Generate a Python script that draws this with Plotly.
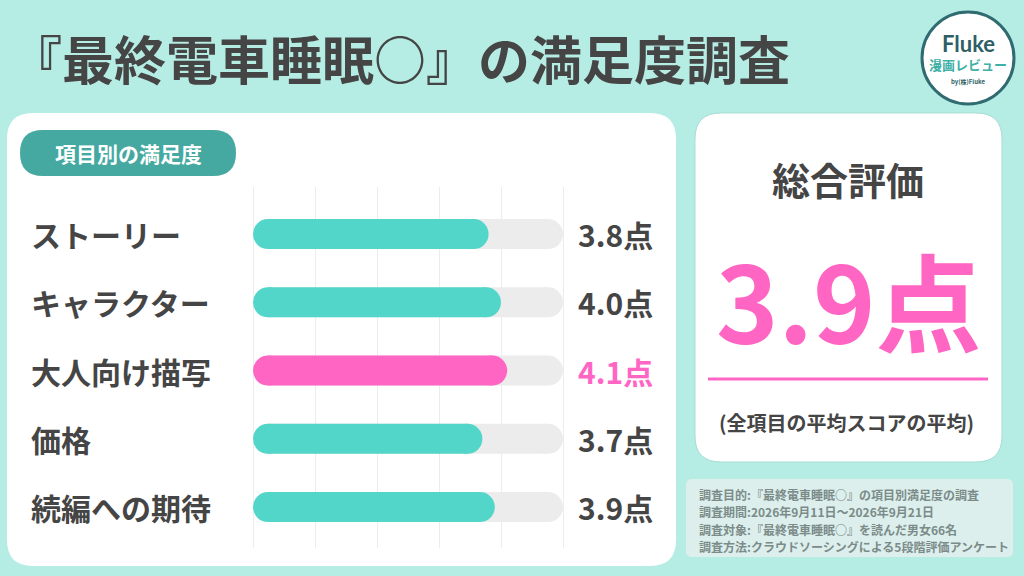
import plotly.graph_objects as go

W, H = 1024, 576

# ---------------- data ----------------
categories = ["ストーリー", "キャラクター", "大人向け描写", "価格", "続編への期待"]
scores = [3.8, 4.0, 4.1, 3.7, 3.9]
max_score = 5
grid_ticks = [0, 1, 2, 3, 4, 5]
title_text = "『最終電車睡眠○』の満足度調査"
section_label = "項目別の満足度"
overall_label = "総合評価"
overall_note = "(全項目の平均スコアの平均)"
notes = [
    "調査目的:『最終電車睡眠○』の項目別満足度の調査",
    "調査期間:2026年9月11日～2026年9月21日",
    "調査対象:『最終電車睡眠○』を読んだ男女66名",
    "調査方法:クラウドソーシングによる5段階評価アンケート",
]

# ---------------- style ----------------
BG = "#b5ede5"
TEAL = "#52d6c9"
TEAL_DARK = "#45a9a1"
PINK = "#ff66c4"
TRACK = "#ececec"
TEXT = "#454545"
FONT = "Noto Sans CJK JP"

# plot area (pixels)
PX0, PX1 = 253, 563
PY0, PY1 = 187, 548
YR = [4.6, -0.69]
BAR_PX = 30
PAD = 0.02  # small range padding so edge gridlines are drawn

overall = round(sum(scores) / len(scores), 1)
best = max(scores)
bar_colors = [PINK if s == best else TEAL for s in scores]
label_colors = [PINK if s == best else TEXT for s in scores]

ppu = (PX1 - PX0) / max_score
px_per_cat = (PY1 - PY0) / (YR[0] - YR[1])
bar_w = BAR_PX / px_per_cat
r_u = (BAR_PX / 2) / ppu


def px(x):
    return x / W


def py(y):
    return 1 - y / H


def rrect(x0, y0, x1, y1, r):
    X = lambda v: f"{px(v):.5f}"
    Y = lambda v: f"{py(v):.5f}"
    return (
        f"M {X(x0 + r)} {Y(y0)} L {X(x1 - r)} {Y(y0)} "
        f"Q {X(x1)} {Y(y0)} {X(x1)} {Y(y0 + r)} "
        f"L {X(x1)} {Y(y1 - r)} Q {X(x1)} {Y(y1)} {X(x1 - r)} {Y(y1)} "
        f"L {X(x0 + r)} {Y(y1)} Q {X(x0)} {Y(y1)} {X(x0)} {Y(y1 - r)} "
        f"L {X(x0)} {Y(y0 + r)} Q {X(x0)} {Y(y0)} {X(x0 + r)} {Y(y0)} Z"
    )


fig = go.Figure()

# --- grey tracks (body + right cap; left cap is hidden beneath the score caps) ---
track = [max_score] * len(categories)
fig.add_trace(go.Bar(
    y=categories, x=[v - 2 * r_u for v in track], base=[r_u] * len(track), orientation="h",
    marker=dict(color=TRACK, line=dict(width=0)), width=bar_w, hoverinfo="skip", showlegend=False,
))
# --- score bodies ---
fig.add_trace(go.Bar(
    y=categories, x=[v - 2 * r_u for v in scores], base=[r_u] * len(scores), orientation="h",
    marker=dict(color=bar_colors, line=dict(width=0)), width=bar_w, hoverinfo="skip", showlegend=False,
))
fig.add_trace(go.Scatter(
    y=categories, x=[v - r_u for v in track], mode="markers",
    marker=dict(size=BAR_PX, color=TRACK, line=dict(width=0)),
    hoverinfo="skip", showlegend=False, cliponaxis=False,
))
# --- score caps ---
fig.add_trace(go.Scatter(
    y=categories + categories, x=[r_u] * len(scores) + [v - r_u for v in scores], mode="markers",
    marker=dict(size=BAR_PX, color=bar_colors * 2, line=dict(width=0)),
    hoverinfo="skip", showlegend=False, cliponaxis=False,
))

shapes = []
shapes.append(dict(type="path", path=rrect(7, 113, 676, 566, 26), xref="paper", yref="paper",
                   fillcolor="white", line=dict(width=0), layer="below"))
shapes.append(dict(type="path", path=rrect(695, 113, 1002, 462, 26), xref="paper", yref="paper",
                   fillcolor="white", line=dict(color="#a7dcd4", width=1), layer="below"))
shapes.append(dict(type="path", path=rrect(686, 479, 1013, 557, 6), xref="paper", yref="paper",
                   fillcolor="#dcefec", line=dict(width=0), layer="below"))
shapes.append(dict(type="path", path=rrect(20, 130, 236, 176, 23), xref="paper", yref="paper",
                   fillcolor=TEAL_DARK, line=dict(width=0), layer="below"))
shapes.append(dict(type="line", x0=px(708), x1=px(988), y0=py(379), y1=py(379), xref="paper", yref="paper",
                   line=dict(color=PINK, width=3)))
shapes.append(dict(type="circle", x0=px(922), x1=px(1014), y0=py(12), y1=py(104), xref="paper", yref="paper",
                   fillcolor="white", line=dict(color="#2f6b70", width=3)))

ann = []


def add_text(x, y, text, size, color=TEXT, weight=700, xanchor="center", yanchor="middle", family=FONT):
    ann.append(dict(x=px(x), y=py(y), xref="paper", yref="paper", text=text, showarrow=False,
                    xanchor=xanchor, yanchor=yanchor,
                    font=dict(family=family, size=size, color=color, weight=weight)))


add_text(8, 58, title_text, 52, xanchor="left")
add_text(128, 153, section_label, 21, color="white")
add_text(848, 178, overall_label, 38)
add_text(849, 298, f"{overall}点", 106, color=PINK)
add_text(846, 422, overall_note, 20)
for i, line in enumerate(notes):
    add_text(697, 494 + i * 17.5, line, 12, color="#7b8b89", xanchor="left")

add_text(968, 44, "Fluke", 22, color="#2f5f66", family="Lato")
add_text(968, 64, "漫画レビュー", 13, color="#3fb0a6")
add_text(968, 81, "by(株)Fluke", 6, color="#2f5f66")

for cat, s, c in zip(categories, scores, label_colors):
    ann.append(dict(x=px(29), y=cat, xref="paper", yref="y", text=cat, showarrow=False,
                    xanchor="left", yanchor="middle",
                    font=dict(family=FONT, size=30, color=TEXT, weight=700)))
    ann.append(dict(x=px(576), y=cat, xref="paper", yref="y", text=f"{s:.1f}点", showarrow=False,
                    xanchor="left", yanchor="middle",
                    font=dict(family=FONT, size=30, color=c, weight=700)))

fig.update_layout(
    width=W, height=H,
    margin=dict(l=0, r=0, t=0, b=0),
    paper_bgcolor=BG, plot_bgcolor="rgba(0,0,0,0)",
    barmode="overlay",
    shapes=shapes, annotations=ann,
    hovermode=False,
    xaxis=dict(domain=[px(PX0 - PAD * ppu), px(PX1 + PAD * ppu)], range=[-PAD, max_score + PAD],
               tickvals=grid_ticks, showticklabels=False, showgrid=True, gridcolor="#ececec", gridwidth=1,
               zeroline=False, showline=False, fixedrange=True),
    yaxis=dict(domain=[py(PY1), py(PY0)], type="category", categoryorder="array",
               categoryarray=categories, range=YR, showticklabels=False,
               showgrid=False, zeroline=False, fixedrange=True),
)

fig.write_html("out.html", config={"displayModeBar": False},
               post_script="document.body.style.margin='0';document.body.style.overflow='hidden';")
